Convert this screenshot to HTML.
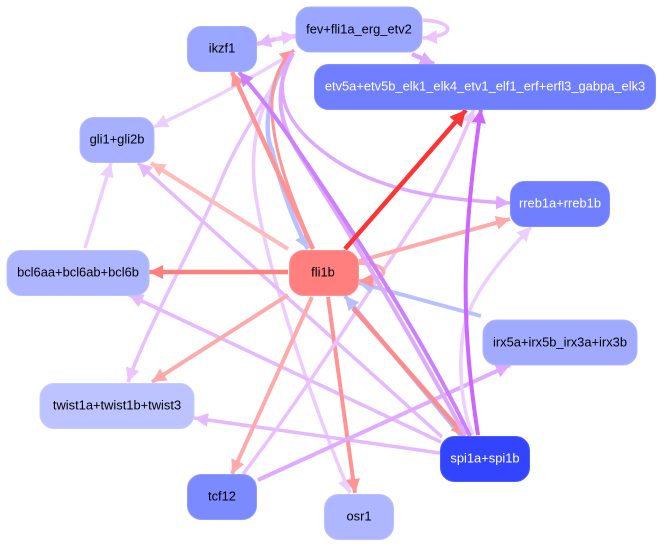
<!DOCTYPE html>
<html>
<head>
<meta charset="utf-8">
<style>
html,body{margin:0;padding:0;background:#fff;width:663px;height:546px;overflow:hidden}
svg{display:block}
text{font-family:"Liberation Sans",sans-serif;font-size:12.9px;text-anchor:middle;dominant-baseline:central}
path{fill:none;stroke-linecap:butt}
</style>
</head>
<body>
<svg width="663" height="546" viewBox="0 0 663 546" xmlns="http://www.w3.org/2000/svg">
<defs>
<marker id="a1" markerUnits="userSpaceOnUse" markerWidth="16" markerHeight="14" refX="14" refY="7" orient="auto"><path d="M0 0L14 7L0 14Z" style="fill:#ecc4ff;stroke:none"/></marker>
<marker id="a2" markerUnits="userSpaceOnUse" markerWidth="16" markerHeight="14" refX="14" refY="7" orient="auto"><path d="M0 0L14 7L0 14Z" style="fill:#e6b8ff;stroke:none"/></marker>
<marker id="a3" markerUnits="userSpaceOnUse" markerWidth="16" markerHeight="14" refX="14" refY="7" orient="auto"><path d="M0 0L14 7L0 14Z" style="fill:#dfa8ff;stroke:none"/></marker>
<marker id="a4" markerUnits="userSpaceOnUse" markerWidth="16" markerHeight="14" refX="14" refY="7" orient="auto"><path d="M0 0L14 7L0 14Z" style="fill:#edcfff;stroke:none"/></marker>
<marker id="a5" markerUnits="userSpaceOnUse" markerWidth="16" markerHeight="14" refX="14" refY="7" orient="auto"><path d="M0 0L14 7L0 14Z" style="fill:#cc80ff;stroke:none"/></marker>
<marker id="a6" markerUnits="userSpaceOnUse" markerWidth="16" markerHeight="14" refX="14" refY="7" orient="auto"><path d="M0 0L14 7L0 14Z" style="fill:#cc66ff;stroke:none"/></marker>
<marker id="r1" markerUnits="userSpaceOnUse" markerWidth="16" markerHeight="14" refX="14" refY="7" orient="auto"><path d="M0 0L14 7L0 14Z" style="fill:#ff9494;stroke:none"/></marker>
<marker id="r2" markerUnits="userSpaceOnUse" markerWidth="16" markerHeight="14" refX="14" refY="7" orient="auto"><path d="M0 0L14 7L0 14Z" style="fill:#ffaaaa;stroke:none"/></marker>
<marker id="r3" markerUnits="userSpaceOnUse" markerWidth="16" markerHeight="14" refX="14" refY="7" orient="auto"><path d="M0 0L14 7L0 14Z" style="fill:#ffbbbb;stroke:none"/></marker>
<marker id="r4" markerUnits="userSpaceOnUse" markerWidth="16" markerHeight="14" refX="14" refY="7" orient="auto"><path d="M0 0L14 7L0 14Z" style="fill:#ff7f7f;stroke:none"/></marker>
<marker id="r5" markerUnits="userSpaceOnUse" markerWidth="18" markerHeight="16" refX="16" refY="8" orient="auto"><path d="M0 0L16 8L0 16Z" style="fill:#ff3333;stroke:none"/></marker>
<marker id="b1" markerUnits="userSpaceOnUse" markerWidth="16" markerHeight="14" refX="14" refY="7" orient="auto"><path d="M0 0L14 7L0 14Z" style="fill:#b8c0ff;stroke:none"/></marker>
</defs>

<path d="M85 248L111 163" stroke="#edcfff" stroke-width="3.500" marker-end="url(#a4)"/>
<path d="M293 53C240 85 200 105 154 127" stroke="#edcfff" stroke-width="3.500" marker-end="url(#a4)"/>
<path d="M293 53C262 105 238 140 222 178C195 245 150 320 128 382" stroke="#e8c0ff" stroke-width="3.500" marker-end="url(#a1)"/>
<path d="M293 53C268 85 250 130 254 180C258 240 310 400 350 493" stroke="#eecbff" stroke-width="3.500" marker-end="url(#a4)"/>
<path d="M288 249L151 163" stroke="#ffbbbb" stroke-width="4" marker-end="url(#r3)"/>
<path d="M442 437L138 163" stroke="#e6b8ff" stroke-width="3.500" marker-end="url(#a2)"/>
<path d="M441 442L129 295" stroke="#e6b8ff" stroke-width="3.500" marker-end="url(#a2)"/>
<path d="M440 453L194 418" stroke="#e6b8ff" stroke-width="3.500" marker-end="url(#a2)"/>
<path d="M288 295L152 382" stroke="#ffaaaa" stroke-width="4" marker-end="url(#r2)"/>
<path d="M312 297L232 474" stroke="#ffaaaa" stroke-width="4" marker-end="url(#r2)"/>
<path d="M328 297L355 493" stroke="#ff9494" stroke-width="4" marker-end="url(#r1)"/>
<path d="M288 272L149 272" stroke="#ff7f7f" stroke-width="4.500" marker-end="url(#r4)"/>
<path d="M243 474C300 400 350 320 430 200C445 175 460 145 474 109" stroke="#ebc0ff" stroke-width="3.500" marker-end="url(#a1)"/>
<path d="M258 480L510 365" stroke="#e0aaff" stroke-width="4" marker-end="url(#a3)"/>
<path d="M473 435C462 410 458 370 463 333C468 300 495 265 531 227" stroke="#edcfff" stroke-width="3.500" marker-end="url(#a4)"/>
<path d="M481 316L359 283" stroke="#b8c0ff" stroke-width="4" marker-end="url(#b1)"/>
<path d="M359 261L510 219" stroke="#ffaaaa" stroke-width="4" marker-end="url(#r2)"/>
<path d="M288 55C270 85 262 130 272 150C280 185 295 225 308 249" stroke="#b8c0ff" stroke-width="4.500" marker-end="url(#b1)"/>
<path d="M462 437L345 296" stroke="#b0baff" stroke-width="4" marker-end="url(#b1)"/>
<path d="M353 308L465 436" stroke="#ff8c8c" stroke-width="4.500" marker-end="url(#r1)"/>
<path d="M359 263C392 264 392 280 359 281" stroke="#ffaaaa" stroke-width="3.500" marker-end="url(#r1)"/>
<path d="M313 249C295 205 270 150 272 100C273 80 280 62 294 50" stroke="#ff9494" stroke-width="3" marker-end="url(#r1)"/>
<path d="M313 249L232 72" stroke="#ff9494" stroke-width="4.500" marker-end="url(#r1)"/>
<path d="M465 435C430 370 370 265 303 160C285 132 268 100 293 53" stroke="#dfa8ff" stroke-width="4"/>
<path d="M470 436C445 385 400 300 300 153C285 130 262 98 239 72" stroke="#cc80ff" stroke-width="4" marker-end="url(#a5)"/>
<path d="M292 53C268 95 290 130 335 160C380 190 440 200 510 203" stroke="#dfa8ff" stroke-width="3.500" marker-end="url(#a3)"/>
<path d="M478 435C462 330 460 250 481 109" stroke="#cc66ff" stroke-width="4" marker-end="url(#a6)"/>
<path d="M345 249L466 110" stroke="#ff3333" stroke-width="4.500" marker-end="url(#r5)"/>
<path d="M276 39L257 44" stroke="#e6b8ff" stroke-width="4.500" marker-end="url(#a2)"/>
<path d="M276 39L296 36" stroke="#ecc4ff" stroke-width="4.500" marker-end="url(#a1)"/>
<path d="M423 20C456 22 456 36 423 38" stroke="#ebc0ff" stroke-width="3.500" marker-end="url(#a1)"/>
<path d="M412 54L434 64" stroke="#e0a6ff" stroke-width="4.500" marker-end="url(#a3)"/>

<rect x="187.500" y="26.500" width="69" height="45" rx="14" fill="#9aa6ff" stroke="#a6b0ff"/>
<text x="222" y="48">ikzf1</text>
<rect x="296" y="7" width="126" height="45" rx="14" fill="#9ba6ff" stroke="#a6b0ff"/>
<text x="359" y="29">fev+fli1a_erg_etv2</text>
<rect x="314.500" y="64.500" width="341" height="45" rx="14" fill="#6f7fff" stroke="#808eff"/>
<text x="485" y="86" fill="#fff">etv5a+etv5b_elk1_elk4_etv1_elf1_erf+erfl3_gabpa_elk3</text>
<rect x="80" y="117.500" width="74" height="45" rx="14" fill="#a6b0ff" stroke="#b4bcff"/>
<text x="117" y="139">gli1+gli2b</text>
<rect x="510.500" y="181.500" width="99" height="45" rx="14" fill="#6f7fff" stroke="#808eff"/>
<text x="560" y="203" fill="#fff">rreb1a+rreb1b</text>
<rect x="289.500" y="250.500" width="69" height="45" rx="14" fill="#ff7f7f" stroke="#ff9292"/>
<text x="323" y="272">fli1b</text>
<rect x="7" y="250.500" width="142" height="45" rx="14" fill="#adb5ff" stroke="#bac1ff"/>
<text x="78" y="272">bcl6aa+bcl6ab+bcl6b</text>
<rect x="483" y="320" width="154" height="45" rx="14" fill="#a0aaff" stroke="#aeb7ff"/>
<text x="560" y="342">irx5a+irx5b_irx3a+irx3b</text>
<rect x="40" y="383.500" width="154" height="45" rx="14" fill="#bcc3ff" stroke="#c7ccff"/>
<text x="117" y="405">twist1a+twist1b+twist3</text>
<rect x="440.500" y="436.500" width="89" height="45" rx="14" fill="#3344ff" stroke="#4c5cff"/>
<text x="485" y="458" fill="#fff">spi1a+spi1b</text>
<rect x="187.500" y="474.500" width="69" height="45" rx="14" fill="#7c8aff" stroke="#8f9bff"/>
<text x="222" y="496">tcf12</text>
<rect x="324.500" y="494.500" width="69" height="45" rx="14" fill="#aeb6ff" stroke="#bac1ff"/>
<text x="359" y="516">osr1</text>
</svg>
</body>
</html>
